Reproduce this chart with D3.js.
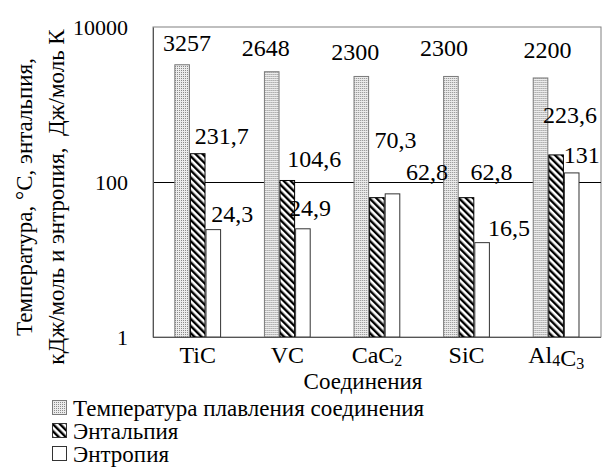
<!DOCTYPE html>
<html>
<head>
<meta charset="utf-8">
<script src="https://cdn.jsdelivr.net/npm/d3@7"></script>
<style>
  body { margin: 0; background: #fff; }
  svg { display: block; }
  svg text { font-family: "Liberation Serif", "DejaVu Serif", "Times New Roman", serif; }
</style>
</head>
<body>
<svg width="603" height="475"></svg>
<script>
// data
const categories = ["TiC", "VC", "CaC2", "SiC", "Al4C3"];
const seriesNames = ["Температура плавления соединения", "Энтальпия", "Энтропия"];
const meltTemp = [3257, 2648, 2300, 2300, 2200];
const enthalpy = [231.7, 104.6, 62.8, 62.8, 223.6];
const entropy = [24.3, 24.9, 70.3, 16.5, 131];
const yTicks = [1, 100, 10000];

// hand-moved label offsets (dx from bar centre, dy from bar top)
const labelShift = [
  [[5, -14], [-6, -16], [-6, -16], [-7, -20], [7, -20]],
  [[24, -10], [27, -13], [50, -18], [25, -18], [14, -32]],
  [[19, -8], [7, -13], [3, -46], [27, -7], [10, -10]]
];

const SERIF = "'Liberation Serif', 'DejaVu Serif', 'Times New Roman', serif";
const svg = d3.select("svg");
const margin = { left: 153, right: 2, top: 27, bottom: 138 };
const W = 603, H = 475;

const x = d3.scaleBand().domain(categories).range([margin.left, W - margin.right]).padding(0);
const inner = d3.scaleBand().domain(d3.range(3))
    .range([x.bandwidth() * 0.238, x.bandwidth() * 0.76]).padding(0);
const y = d3.scaleLog().domain([1, 10000]).range([H - margin.bottom, margin.top]);

const values = [meltTemp, enthalpy, entropy];

// patterns
const defs = svg.append("defs");
const dots = defs.append("pattern").attr("id", "dots")
    .attr("width", 2).attr("height", 2).attr("patternUnits", "userSpaceOnUse");
dots.append("rect").attr("width", 2).attr("height", 2).attr("fill", "#ececec");
dots.append("rect").attr("width", 1).attr("height", 1).attr("fill", "#8a8a8a");

const hatch = defs.append("pattern").attr("id", "hatch")
    .attr("width", 5).attr("height", 5).attr("patternUnits", "userSpaceOnUse")
    .attr("patternTransform", "rotate(-45)");
hatch.append("rect").attr("width", 5).attr("height", 5).attr("fill", "#fff");
hatch.append("rect").attr("width", 2.4).attr("height", 5).attr("fill", "#000");

const fills = ["url(#dots)", "url(#hatch)", "#fff"];
const strokes = ["#7a7a7a", "#000", "#333"];

// frame
svg.append("rect")
    .attr("x", margin.left).attr("y", margin.top)
    .attr("width", W - margin.right - margin.left)
    .attr("height", H - margin.bottom - margin.top)
    .attr("fill", "none").attr("stroke", "#808080").attr("stroke-width", 1);

// gridline at 100
svg.append("line")
    .attr("x1", margin.left).attr("x2", W - margin.right)
    .attr("y1", Math.round(y(100)) + 0.5).attr("y2", Math.round(y(100)) + 0.5)
    .attr("stroke", "#000");

// y axis labels
const yAxis = svg.append("g").attr("transform", `translate(${margin.left},0)`)
    .call(d3.axisLeft(y).tickValues(yTicks).tickFormat(d3.format("d")).tickSize(0).tickPadding(25));
yAxis.attr("font-family", SERIF);
yAxis.select(".domain").attr("stroke", "#555");
yAxis.selectAll("text").attr("font-size", 22).attr("fill", "#000");

// bars
const groups = svg.selectAll(".grp").data(categories).enter().append("g")
    .attr("class", "grp")
    .attr("transform", d => `translate(${x(d)},0)`);

groups.each(function(cat, ci) {
  const g = d3.select(this);
  for (let s = 0; s < 3; s++) {
    const v = values[s][ci];
    g.append("rect")
        .attr("x", inner(s) + 0.5)
        .attr("y", y(v))
        .attr("width", inner.bandwidth() - 1)
        .attr("height", y(1) - y(v))
        .attr("fill", fills[s])
        .attr("stroke", strokes[s]).attr("stroke-width", 1);
  }
});

// data labels
const fmt = v => String(v).replace(".", ",");
for (let s = 0; s < 3; s++) {
  categories.forEach((cat, ci) => {
    const v = values[s][ci];
    const cx = x(cat) + inner(s) + inner.bandwidth() / 2;
    svg.append("text")
        .attr("x", cx + labelShift[s][ci][0])
        .attr("y", y(v) + labelShift[s][ci][1])
        .attr("text-anchor", "middle")
        .attr("font-family", SERIF)
        .attr("font-size", 24)
        .text(fmt(v));
  });
}

// bottom axis line
svg.append("line")
    .attr("x1", margin.left).attr("x2", W - margin.right)
    .attr("y1", y(1) + 0.5).attr("y2", y(1) + 0.5)
    .attr("stroke", "#555");

// category labels with subscripts
categories.forEach(cat => {
  const t = svg.append("text")
      .attr("x", x(cat) + x.bandwidth() / 2)
      .attr("y", 363)
      .attr("text-anchor", "middle")
      .attr("font-family", SERIF)
      .attr("font-size", 24);
  cat.match(/[A-Za-z]+|\d+/g).forEach(part => {
    if (/\d/.test(part)) {
      t.append("tspan").attr("font-size", 16).attr("dy", 3).text(part);
      t.append("tspan").attr("dy", -3).text("");
    } else {
      t.append("tspan").text(part);
    }
  });
});

// axis titles
svg.append("text")
    .attr("x", (margin.left + W - margin.right) / 2 - 14)
    .attr("y", 389)
    .attr("text-anchor", "middle")
    .attr("font-family", SERIF)
    .attr("font-size", 23)
    .text("Соединения");

const yTitle = svg.append("text")
    .attr("transform", "translate(0,197) rotate(-90)")
    .attr("text-anchor", "middle")
    .attr("font-family", SERIF)
    .attr("font-size", 23);
yTitle.append("tspan").attr("x", 0).attr("y", 32).text("Температура, °С, энтальпия,");
yTitle.append("tspan").attr("x", 0).attr("y", 64).attr("xml:space", "preserve")
    .text("кДж/моль и энтропия,  Дж/моль К");

// legend
const legend = svg.selectAll(".leg").data(seriesNames).enter().append("g")
    .attr("class", "leg")
    .attr("transform", (d, i) => `translate(52,${416 + i * 23})`);
legend.append("rect")
    .attr("x", 0.5).attr("y", -15.5).attr("width", 14).attr("height", 14)
    .attr("fill", (d, i) => fills[i])
    .attr("stroke", (d, i) => i === 0 ? "#7a7a7a" : "#333");
legend.append("text")
    .attr("x", 21).attr("y", 0)
    .attr("font-family", SERIF)
    .attr("font-size", 23)
    .text(d => d);
</script>
</body>
</html>
